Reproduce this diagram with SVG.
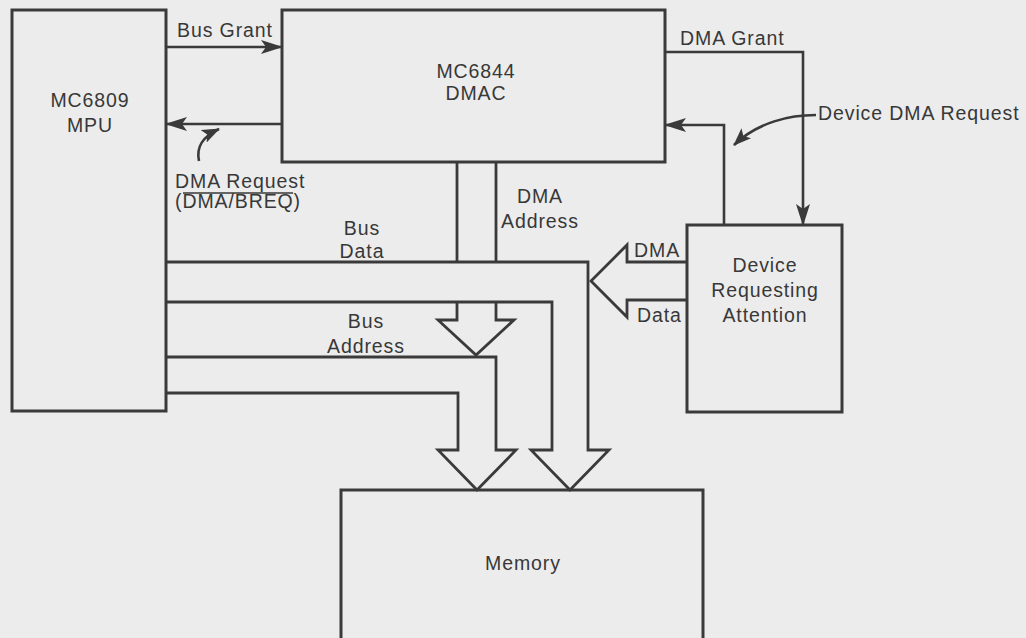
<svg xmlns="http://www.w3.org/2000/svg" width="1026" height="638" viewBox="0 0 1026 638">
<defs>
<style>
.bg{fill:#ececec}
.box{fill:none;stroke:#3a3a3a;stroke-width:3}
.ln{fill:none;stroke:#3a3a3a;stroke-width:2.6;stroke-linejoin:miter}
.pipe{fill:none;stroke:#3a3a3a;stroke-width:2.8;stroke-linejoin:miter}
.lbl{font-family:"Liberation Sans",Arial,sans-serif;font-size:19.5px;letter-spacing:0.9px;fill:#383838}
.c{text-anchor:middle}
</style>
<marker id="ah" viewBox="0 0 22 16" refX="21" refY="8" markerWidth="22" markerHeight="16" markerUnits="userSpaceOnUse" orient="auto">
<path d="M0,1 L22,8 L0,15 L5,8 Z" fill="#3a3a3a"/>
</marker>
<marker id="ahs" viewBox="0 0 18 14" refX="17" refY="7" markerWidth="18" markerHeight="14" markerUnits="userSpaceOnUse" orient="auto">
<path d="M0,0 L18,7 L0,14 L4,7 Z" fill="#3a3a3a"/>
</marker>
</defs>
<rect class="bg" x="0" y="0" width="1026" height="638"/>

<g id="mpu">
<rect class="box" x="12" y="10" width="154" height="401"/>
<text class="lbl c" x="90" y="107">MC6809</text>
<text class="lbl c" x="90" y="132">MPU</text>
</g>

<g id="dmac">
<rect class="box" x="282" y="10" width="383" height="152"/>
<text class="lbl c" x="476" y="78">MC6844</text>
<text class="lbl c" x="476" y="100">DMAC</text>
</g>

<g id="device">
<rect class="box" x="687" y="225" width="155" height="187"/>
<text class="lbl c" x="765" y="272">Device</text>
<text class="lbl c" x="765" y="297">Requesting</text>
<text class="lbl c" x="765" y="322">Attention</text>
</g>

<g id="memory">
<rect class="box" x="341" y="490" width="362" height="170"/>
<text class="lbl c" x="523" y="570">Memory</text>
</g>

<g id="connectors">
<!-- control lines -->
<line class="ln" x1="166" y1="47" x2="282" y2="47" marker-end="url(#ah)"/>
<line class="ln" x1="282" y1="124" x2="166" y2="124" marker-end="url(#ah)"/>
<polyline class="ln" points="665,52 803,52 803,225" marker-end="url(#ah)"/>
<polyline class="ln" points="724,225 724,125 665,125" marker-end="url(#ah)"/>
<!-- label pointers -->
<path class="ln" d="M199,161 C196,147 202,137 219,129" marker-end="url(#ahs)"/>
<path class="ln" d="M816,115 C790,115 758,122 734,145" marker-end="url(#ahs)"/>
<!-- DMA address channel from DMAC -->
<line class="pipe" x1="457" y1="162" x2="457" y2="262"/>
<line class="pipe" x1="496" y1="162" x2="496" y2="262"/>
<!-- data bus -->
<polyline class="pipe" points="166,262 588,262 588,450 609,450 570,490 531,450 552,450 552,302 166,302"/>
<!-- DMA address arrow into address bus -->
<polyline class="pipe" points="457,302 457,320 438,320 476,355 514,320 496,320 496,302"/>
<!-- address bus -->
<polyline class="pipe" points="166,357 496,357 496,450 516,450 477,490 438,450 458,450 458,393 166,393"/>
<!-- DMA data arrow from device -->
<polyline class="pipe" points="687,262 627,262 627,245 591,281 627,317 627,300 687,300"/>
</g>

<g id="labels">
<text class="lbl" x="177" y="37">Bus Grant</text>
<text class="lbl" x="175" y="188">DMA Request</text>
<text class="lbl" x="175" y="208">(DMA/BREQ)</text>
<line x1="183" y1="193" x2="293" y2="193" stroke="#383838" stroke-width="1.4"/>
<text class="lbl" x="680" y="45">DMA Grant</text>
<text class="lbl" x="818" y="120">Device DMA Request</text>
<text class="lbl c" x="540" y="203">DMA</text>
<text class="lbl c" x="540" y="228">Address</text>
<text class="lbl c" x="362" y="235">Bus</text>
<text class="lbl c" x="362" y="258">Data</text>
<text class="lbl c" x="366" y="328">Bus</text>
<text class="lbl c" x="366" y="353">Address</text>
<text class="lbl" x="634" y="257">DMA</text>
<text class="lbl" x="637" y="322">Data</text>
</g>
</svg>
